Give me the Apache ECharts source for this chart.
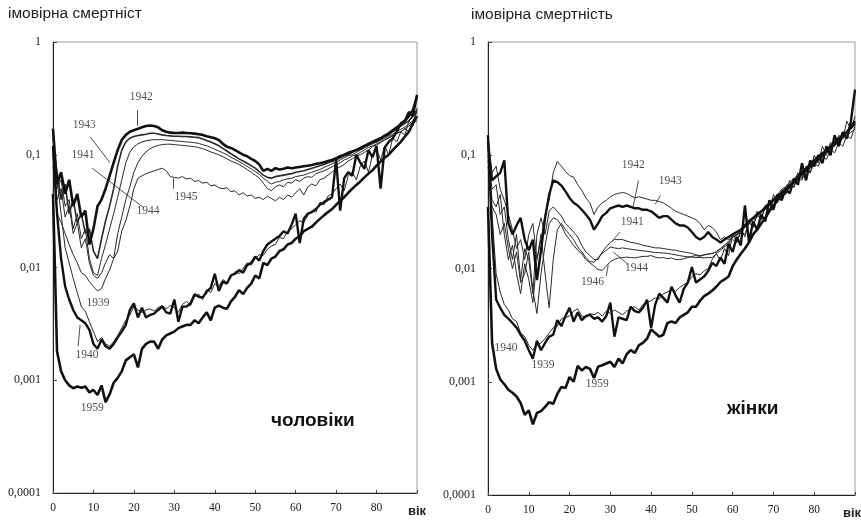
<!DOCTYPE html>
<html><head><meta charset="utf-8">
<script src="https://cdn.jsdelivr.net/npm/echarts@6/dist/echarts.min.js"></script>
<style>html,body{margin:0;padding:0;background:#fff}#c{width:861px;height:522px}</style>
</head><body><div id="c"></div>
<script>
// ---------- DATA (ages 0..90, probability of death) ----------
const yTickLabels = ['0,0001','0,001','0,01','0,1','1'];
const xTickLabels = ['0','10','20','30','40','50','60','70','80'];

// Males
const m1939 = [0.15,0.06,0.03,0.015,0.011,0.008,0.006,0.0045,0.0041,0.0033,0.0027,0.0022,0.0024,0.0021,0.002,0.0022,0.0025,0.0029,0.0034,0.0038,0.0045,0.0042,0.004,0.0042,0.0043,0.0041,0.0044,0.0046,0.0043,0.0046,0.0044,0.004,0.0047,0.005,0.0046,0.0055,0.0058,0.0052,0.0064,0.006,0.0072,0.0068,0.0078,0.0074,0.0082,0.0092,0.0088,0.0098,0.011,0.0105,0.012,0.013,0.0128,0.0145,0.0155,0.016,0.0185,0.018,0.021,0.022,0.024,0.026,0.025,0.029,0.032,0.031,0.038,0.036,0.043,0.045,0.05,0.055,0.048,0.065,0.07,0.06,0.08,0.088,0.07,0.1,0.11,0.09,0.12,0.1,0.14,0.13,0.16,0.15,0.2,0.18,0.26];
const m1940 = [0.12,0.03,0.012,0.0068,0.0052,0.0042,0.0036,0.0034,0.0032,0.0028,0.0021,0.0019,0.0023,0.002,0.0019,0.0021,0.0024,0.0027,0.0031,0.0042,0.0048,0.0036,0.0044,0.0036,0.0038,0.0039,0.0042,0.0045,0.004,0.0039,0.0052,0.0033,0.0045,0.0045,0.0048,0.0058,0.0055,0.0054,0.0061,0.0066,0.0088,0.0062,0.0075,0.0072,0.0085,0.0088,0.0095,0.009,0.0105,0.011,0.0125,0.0115,0.014,0.016,0.017,0.018,0.019,0.021,0.02,0.024,0.03,0.0165,0.027,0.03,0.031,0.033,0.036,0.038,0.04,0.042,0.09,0.032,0.062,0.07,0.065,0.1,0.085,0.075,0.11,0.095,0.12,0.05,0.115,0.13,0.14,0.16,0.19,0.2,0.24,0.22,0.34];
const m1941 = [0.14,0.05,0.06,0.035,0.04,0.022,0.03,0.018,0.022,0.012,0.009,0.0085,0.012,0.016,0.022,0.03,0.042,0.06,0.085,0.105,0.118,0.125,0.13,0.133,0.135,0.136,0.136,0.136,0.135,0.134,0.133,0.132,0.131,0.13,0.129,0.128,0.126,0.123,0.12,0.116,0.112,0.108,0.104,0.1,0.095,0.091,0.087,0.083,0.079,0.075,0.071,0.067,0.062,0.058,0.055,0.057,0.058,0.06,0.061,0.062,0.064,0.065,0.066,0.068,0.07,0.072,0.074,0.077,0.08,0.083,0.086,0.09,0.094,0.098,0.1,0.105,0.11,0.115,0.12,0.125,0.13,0.134,0.14,0.146,0.152,0.16,0.168,0.176,0.186,0.2,0.22];
const m1942 = [0.17,0.055,0.07,0.045,0.06,0.035,0.045,0.028,0.032,0.016,0.022,0.035,0.04,0.05,0.065,0.085,0.11,0.135,0.15,0.16,0.165,0.17,0.175,0.18,0.182,0.18,0.175,0.165,0.16,0.157,0.156,0.156,0.157,0.156,0.155,0.154,0.152,0.15,0.146,0.143,0.14,0.135,0.125,0.118,0.115,0.11,0.105,0.1,0.097,0.092,0.088,0.082,0.072,0.075,0.072,0.076,0.074,0.075,0.077,0.076,0.077,0.078,0.079,0.08,0.081,0.083,0.084,0.086,0.088,0.09,0.093,0.097,0.1,0.104,0.107,0.11,0.115,0.12,0.125,0.13,0.135,0.14,0.148,0.155,0.165,0.175,0.185,0.2,0.22,0.25,0.33];
const m1943 = [0.12,0.07,0.04,0.055,0.03,0.04,0.025,0.03,0.02,0.022,0.014,0.012,0.018,0.026,0.035,0.05,0.08,0.11,0.13,0.14,0.145,0.148,0.15,0.152,0.155,0.155,0.153,0.15,0.148,0.147,0.146,0.146,0.145,0.145,0.144,0.143,0.142,0.138,0.134,0.13,0.125,0.12,0.114,0.108,0.102,0.097,0.092,0.088,0.084,0.08,0.076,0.071,0.066,0.063,0.062,0.064,0.065,0.066,0.067,0.068,0.07,0.071,0.072,0.074,0.076,0.078,0.08,0.082,0.085,0.087,0.09,0.094,0.098,0.1,0.105,0.11,0.112,0.118,0.122,0.128,0.13,0.138,0.145,0.15,0.16,0.17,0.18,0.19,0.2,0.22,0.25];
const m1944 = [0.1,0.04,0.05,0.028,0.035,0.02,0.025,0.015,0.018,0.011,0.0085,0.008,0.009,0.011,0.013,0.012,0.02,0.028,0.04,0.052,0.07,0.085,0.097,0.106,0.113,0.118,0.121,0.123,0.124,0.124,0.123,0.122,0.121,0.12,0.119,0.118,0.116,0.113,0.11,0.106,0.103,0.1,0.096,0.092,0.088,0.085,0.082,0.078,0.074,0.07,0.066,0.062,0.056,0.05,0.048,0.052,0.054,0.052,0.057,0.056,0.06,0.058,0.062,0.064,0.063,0.068,0.07,0.072,0.075,0.078,0.082,0.085,0.09,0.093,0.098,0.1,0.105,0.11,0.116,0.12,0.125,0.13,0.136,0.142,0.148,0.155,0.16,0.17,0.18,0.19,0.2];
const m1945 = [0.08,0.03,0.025,0.02,0.016,0.013,0.011,0.009,0.0085,0.0075,0.0068,0.0062,0.0065,0.008,0.0095,0.012,0.014,0.021,0.026,0.035,0.05,0.062,0.065,0.068,0.07,0.072,0.074,0.076,0.072,0.064,0.063,0.062,0.064,0.061,0.062,0.058,0.059,0.056,0.057,0.053,0.054,0.051,0.05,0.051,0.047,0.048,0.044,0.046,0.043,0.044,0.041,0.042,0.04,0.043,0.041,0.039,0.042,0.04,0.044,0.042,0.046,0.05,0.044,0.052,0.055,0.053,0.06,0.062,0.066,0.07,0.075,0.078,0.082,0.088,0.092,0.098,0.1,0.105,0.11,0.118,0.122,0.128,0.135,0.14,0.148,0.155,0.16,0.17,0.16,0.2,0.24];
const m1959 = [0.045,0.0018,0.0012,0.001,0.0009,0.00085,0.00088,0.00086,0.00088,0.00078,0.00082,0.00074,0.0009,0.00064,0.00075,0.00095,0.00105,0.0012,0.0015,0.0016,0.0017,0.0013,0.0019,0.0021,0.0022,0.0022,0.0019,0.0023,0.0025,0.0026,0.0027,0.0029,0.003,0.0031,0.0031,0.0034,0.0032,0.0036,0.004,0.0034,0.0044,0.0046,0.0044,0.0043,0.005,0.0055,0.0063,0.0058,0.0066,0.0072,0.0085,0.008,0.011,0.0105,0.012,0.0125,0.014,0.0145,0.016,0.0165,0.018,0.019,0.021,0.022,0.023,0.025,0.027,0.029,0.031,0.033,0.036,0.039,0.042,0.046,0.05,0.054,0.058,0.063,0.068,0.073,0.08,0.087,0.094,0.1,0.11,0.12,0.13,0.145,0.16,0.19,0.22];

// Females
const f1939 = [0.15,0.02,0.0053,0.0045,0.0039,0.0036,0.0033,0.003,0.0026,0.0023,0.0019,0.0016,0.0023,0.0019,0.0022,0.0025,0.0026,0.0035,0.0031,0.0038,0.0045,0.0034,0.0041,0.0035,0.0038,0.0039,0.0036,0.0037,0.0034,0.0038,0.005,0.0025,0.0037,0.0036,0.0035,0.0046,0.0042,0.0041,0.0045,0.0053,0.003,0.0048,0.006,0.0055,0.005,0.0069,0.0058,0.005,0.0066,0.0075,0.0103,0.0075,0.008,0.0085,0.0095,0.0112,0.0105,0.0125,0.011,0.0165,0.014,0.019,0.016,0.036,0.017,0.026,0.022,0.03,0.026,0.04,0.033,0.045,0.04,0.05,0.046,0.062,0.055,0.085,0.06,0.09,0.08,0.1,0.085,0.12,0.1,0.15,0.12,0.16,0.14,0.2,0.38];
const f1940 = [0.13,0.03,0.009,0.0062,0.0048,0.0043,0.0036,0.0034,0.0027,0.0025,0.0021,0.0019,0.0021,0.0022,0.0024,0.0027,0.003,0.0031,0.0036,0.0037,0.0038,0.0042,0.0044,0.0038,0.0037,0.004,0.0039,0.0041,0.0038,0.0042,0.004,0.0043,0.0041,0.0039,0.0042,0.0044,0.0046,0.0043,0.0048,0.005,0.0052,0.0055,0.0054,0.006,0.0062,0.0065,0.0063,0.0068,0.0072,0.0075,0.0085,0.009,0.0088,0.0095,0.01,0.012,0.0135,0.0118,0.015,0.013,0.02,0.017,0.022,0.019,0.027,0.023,0.032,0.027,0.036,0.031,0.045,0.038,0.05,0.046,0.06,0.052,0.07,0.062,0.08,0.07,0.1,0.085,0.12,0.1,0.13,0.12,0.15,0.14,0.2,0.17,0.22];
const f1941 = [0.1,0.05,0.055,0.03,0.035,0.018,0.012,0.02,0.008,0.015,0.012,0.006,0.02,0.028,0.02,0.032,0.035,0.032,0.029,0.025,0.023,0.021,0.019,0.016,0.014,0.013,0.012,0.012,0.014,0.0155,0.017,0.018,0.018,0.018,0.0175,0.017,0.0168,0.0165,0.016,0.0158,0.0155,0.0152,0.0152,0.015,0.0148,0.0146,0.0145,0.0142,0.014,0.0138,0.0136,0.0132,0.013,0.0132,0.0134,0.0136,0.014,0.015,0.016,0.017,0.019,0.02,0.022,0.024,0.026,0.028,0.03,0.032,0.035,0.038,0.041,0.044,0.048,0.052,0.056,0.06,0.065,0.07,0.075,0.08,0.086,0.092,0.1,0.108,0.115,0.125,0.135,0.145,0.16,0.17,0.19];
const f1942 = [0.13,0.06,0.065,0.07,0.09,0.025,0.02,0.024,0.028,0.018,0.0145,0.018,0.0079,0.0145,0.028,0.045,0.06,0.058,0.054,0.048,0.042,0.038,0.036,0.033,0.03,0.027,0.022,0.025,0.029,0.031,0.034,0.035,0.036,0.035,0.036,0.035,0.034,0.034,0.033,0.033,0.032,0.03,0.028,0.029,0.029,0.027,0.025,0.024,0.024,0.023,0.021,0.019,0.018,0.019,0.021,0.019,0.018,0.017,0.018,0.019,0.02,0.021,0.022,0.024,0.026,0.028,0.03,0.032,0.034,0.037,0.04,0.043,0.046,0.05,0.054,0.058,0.063,0.068,0.073,0.079,0.085,0.092,0.1,0.108,0.116,0.125,0.135,0.15,0.16,0.18,0.2];
const f1943 = [0.12,0.07,0.08,0.05,0.04,0.03,0.022,0.015,0.018,0.012,0.02,0.025,0.012,0.018,0.03,0.04,0.07,0.088,0.08,0.072,0.066,0.064,0.055,0.049,0.042,0.038,0.03,0.035,0.038,0.04,0.043,0.045,0.046,0.047,0.046,0.044,0.042,0.043,0.042,0.041,0.04,0.04,0.039,0.038,0.036,0.034,0.032,0.031,0.03,0.029,0.028,0.027,0.025,0.022,0.024,0.023,0.021,0.018,0.019,0.018,0.019,0.02,0.021,0.023,0.025,0.027,0.029,0.031,0.033,0.036,0.039,0.042,0.045,0.049,0.053,0.057,0.061,0.066,0.072,0.078,0.084,0.09,0.098,0.106,0.114,0.122,0.13,0.14,0.15,0.16,0.17];
const f1944 = [0.09,0.04,0.035,0.045,0.02,0.012,0.016,0.009,0.006,0.011,0.008,0.005,0.012,0.02,0.009,0.0045,0.012,0.022,0.025,0.022,0.02,0.018,0.0155,0.014,0.0125,0.0115,0.0114,0.0125,0.0136,0.0145,0.0155,0.0152,0.015,0.0152,0.015,0.0148,0.0146,0.0145,0.0143,0.0142,0.014,0.0138,0.0138,0.0137,0.0136,0.0134,0.0132,0.013,0.0128,0.0127,0.0126,0.0125,0.0125,0.0124,0.0125,0.0125,0.0135,0.0145,0.0155,0.0165,0.018,0.017,0.021,0.02,0.025,0.024,0.029,0.028,0.034,0.033,0.04,0.039,0.047,0.045,0.055,0.052,0.064,0.06,0.074,0.07,0.085,0.08,0.098,0.092,0.112,0.105,0.13,0.12,0.15,0.14,0.18];
const f1946 = [0.08,0.035,0.03,0.02,0.025,0.015,0.01,0.014,0.0075,0.009,0.014,0.0065,0.004,0.009,0.016,0.025,0.028,0.027,0.024,0.02,0.018,0.016,0.0145,0.0135,0.012,0.0112,0.0105,0.0098,0.0096,0.0105,0.0115,0.012,0.0124,0.0125,0.0126,0.0125,0.0124,0.0126,0.0128,0.0128,0.013,0.0126,0.0124,0.0125,0.0122,0.0124,0.012,0.012,0.0122,0.0125,0.0128,0.013,0.0128,0.0132,0.0134,0.0136,0.014,0.015,0.016,0.0175,0.019,0.0195,0.022,0.023,0.026,0.027,0.031,0.032,0.036,0.038,0.042,0.045,0.05,0.053,0.058,0.062,0.068,0.072,0.078,0.083,0.09,0.095,0.1,0.11,0.12,0.13,0.14,0.15,0.16,0.18,0.2];
const f1959 = [0.035,0.0022,0.0013,0.00105,0.00095,0.00085,0.0008,0.00074,0.00065,0.00051,0.00056,0.00042,0.00053,0.00055,0.0006,0.00066,0.00064,0.00078,0.0009,0.00088,0.0011,0.001,0.00138,0.00126,0.00135,0.0013,0.00108,0.00136,0.0014,0.00145,0.0015,0.00135,0.0016,0.00145,0.00175,0.0019,0.0018,0.0021,0.0022,0.0024,0.0029,0.0027,0.0025,0.0026,0.0033,0.0034,0.0033,0.0037,0.0039,0.0041,0.0046,0.0046,0.0052,0.0057,0.006,0.0064,0.0069,0.0076,0.008,0.0085,0.0105,0.012,0.0135,0.015,0.017,0.02,0.022,0.025,0.028,0.032,0.036,0.04,0.044,0.048,0.053,0.058,0.064,0.07,0.076,0.083,0.09,0.097,0.104,0.11,0.12,0.13,0.14,0.15,0.16,0.175,0.19];

// Curve labels: [age, value, text]
const maleLabels = [[21.8,0.325,'1942'],[7.7,0.184,'1943'],[7.4,0.1,'1941'],[23.5,0.0315,'1944'],[32.9,0.042,'1945'],[11.1,0.0048,'1939'],[8.4,0.00168,'1940'],[9.7,0.00057,'1959']];
const femaleLabels = [[35.6,0.082,'1942'],[44.7,0.059,'1943'],[35.4,0.026,'1941'],[36.4,0.0101,'1944'],[25.6,0.0076,'1946'],[4.4,0.002,'1940'],[13.5,0.0014,'1939'],[26.8,0.00095,'1959']];
// Leader lines: [age1, value1, age2, value2]
const maleLeaders = [[20.8,0.249,20.8,0.18],[9.2,0.144,14.1,0.085],[9.7,0.076,22.4,0.034],[29.7,0.062,29.7,0.05],[6.2,0.002,6.7,0.0031]];
const femaleLeaders = [[36.9,0.06,35.6,0.035],[42.3,0.044,41.0,0.037],[32.4,0.021,30.7,0.018],[34.2,0.011,30.7,0.014],[29.0,0.0086,29.5,0.0108]];

const maleSeries = [['1939',m1939,1],['1940',m1940,2.4],['1941',m1941,1],['1942',m1942,2.6],['1943',m1943,1.6],['1944',m1944,1],['1945',m1945,1],['1959',m1959,2.6]];
const femaleSeries = [['1939',f1939,2.4],['1940',f1940,1],['1941',f1941,1],['1942',f1942,2.4],['1943',f1943,1],['1944',f1944,1],['1946',f1946,1],['1959',f1959,2.6]];

// ---------- CHART ----------
const chart = echarts.init(document.getElementById('c'), null, {renderer:'canvas'});
const serif = 'Liberation Serif, Times New Roman, serif';
const sans = 'Liberation Sans, Arial, sans-serif';

function xAx(i){return {type:'value',gridIndex:i,min:0,max:90,interval:10,
  axisLine:{lineStyle:{color:'#222',width:1}},
  axisTick:{inside:true,length:3,lineStyle:{color:'#444'}},
  splitLine:{show:false},
  axisLabel:{fontFamily:serif,fontSize:11.5,color:'#222',margin:9,
    formatter:v=>{const k=Math.round(v/10);return k<xTickLabels.length?xTickLabels[k]:'';}}};}
function yAx(i){return {type:'log',logBase:10,gridIndex:i,min:0.0001,max:1,
  axisLine:{lineStyle:{color:'#222',width:1}},
  axisTick:{inside:true,length:4,lineStyle:{color:'#444'}},
  splitLine:{show:false},minorTick:{show:false},
  axisLabel:{fontFamily:serif,fontSize:12,color:'#222',margin:12,
    formatter:v=>{const e=Math.round(Math.log10(v));return yTickLabels[e+4]||'';}}};}

const series=[];
function addPanel(list,idx){
  list.forEach(([name,arr,w])=>{
    series.push({type:'line',name:name+(idx?'f':'m'),xAxisIndex:idx,yAxisIndex:idx,
      data:arr.map((v,i)=>[i,v]),showSymbol:false,symbol:'none',smooth:false,
      lineStyle:{color:w>2?'#111':'#2a2a2a',width:w},z:w>2?3:2});
  });
}
addPanel(maleSeries,0);addPanel(femaleSeries,1);
function addLabels(labels,leaders,idx){
  series.push({type:'scatter',xAxisIndex:idx,yAxisIndex:idx,symbolSize:0,z:5,
    data:labels.map(l=>({value:[l[0],l[1]],name:l[2]})),
    label:{show:true,position:'inside',formatter:p=>p.name,fontFamily:serif,fontSize:11.5,color:'#222'},
    markLine:{silent:true,symbol:['none','none'],label:{show:false},
      lineStyle:{color:'#222',width:0.8,type:'solid'},
      data:leaders.map(d=>[{coord:[d[0],d[1]]},{coord:[d[2],d[3]]}])}});
}
addLabels(maleLabels,maleLeaders,0);addLabels(femaleLabels,femaleLeaders,1);

chart.setOption({
  animation:false,
  backgroundColor:'#fff',
  grid:[{left:53,top:42,width:364,height:451,show:true,borderColor:'#9a9a9a',borderWidth:1},
        {left:488,top:42,width:367,height:453,show:true,borderColor:'#9a9a9a',borderWidth:1}],
  xAxis:[xAx(0),xAx(1)],
  yAxis:[yAx(0),yAx(1)],
  graphic:[
    {type:'text',left:8,top:6,style:{text:'імовірна смертніст',font:'15.5px '+sans,fill:'#222'}},
    {type:'text',left:471,top:7,style:{text:'імовірна смертність',font:'15.5px '+sans,fill:'#222'}},
    {type:'text',left:271,top:411,style:{text:'чоловіки',font:'bold 19px '+sans,fill:'#111'}},
    {type:'text',left:727,top:399,style:{text:'жінки',font:'bold 19px '+sans,fill:'#111'}},
    {type:'text',left:408,top:505,style:{text:'вік',font:'bold 13px '+sans,fill:'#222'}},
    {type:'text',left:843,top:507,style:{text:'вік',font:'bold 13px '+sans,fill:'#222'}}
  ],
  series:series
});
</script></body></html>
